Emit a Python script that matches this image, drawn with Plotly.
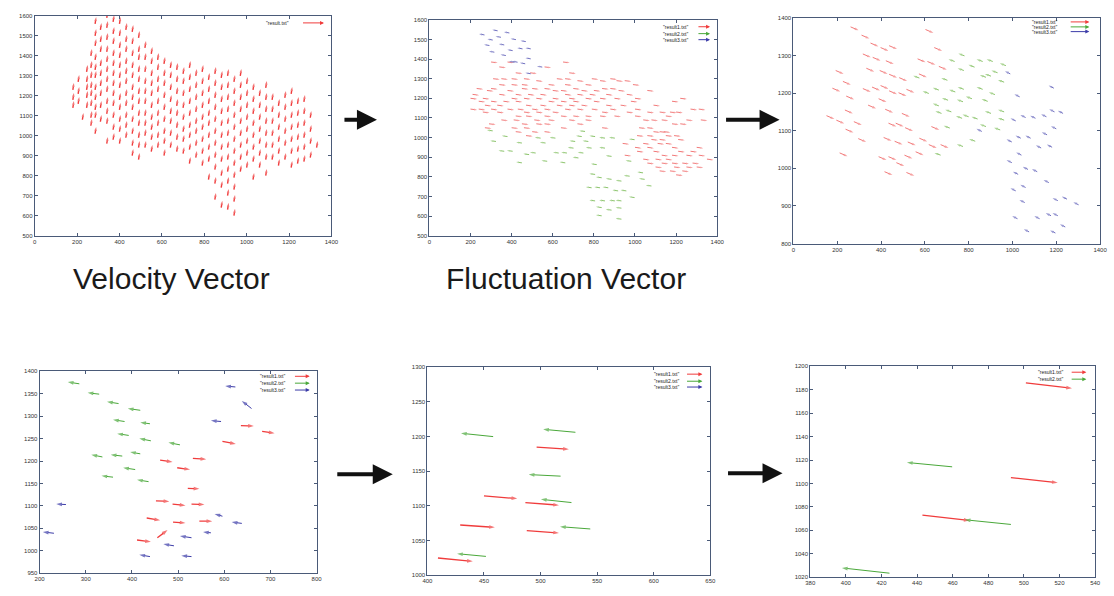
import plotly.graph_objects as go

W, H = 1114, 596

# ---------------- DATA ----------------
# Panel 1 : velocity vectors (columns of arrow bases)
P1_COL_X = [180, 205, 225, 245, 265, 285, 310, 340, 370, 400, 430, 460, 490, 520, 550, 580, 610, 640,
            670, 700, 730, 760, 790, 820, 850, 880, 910, 940, 970, 1000, 1030, 1060, 1090, 1120, 1150,
            1180, 1210, 1240, 1270, 1300, 1330]
P1_COL_Y = [
    [1230, 1180, 1140],
    [1270, 1210, 1160],
    [1080],
    [1320, 1270, 1230, 1190, 1140],
    [1400, 1340, 1290, 1240, 1200, 1150, 1090, 1050],
    [1560, 1500, 1450, 1380, 1330, 1290, 1230, 1180, 1130, 1090, 1010],
    [1530, 1470, 1420, 1350, 1300, 1250, 1200, 1140, 1070],
    [1590, 1540, 1480, 1420, 1370, 1320, 1270, 1220, 1160, 1110, 1060, 960],
    [1570, 1510, 1460, 1400, 1350, 1300, 1250, 1200, 1150, 1090, 1030, 980],
    [1560, 1500, 1440, 1390, 1340, 1290, 1240, 1180, 1130, 1070, 1020, 960],
    [1530, 1470, 1420, 1360, 1310, 1260, 1200, 1150, 1090, 1040, 990],
    [1520, 1460, 1400, 1340, 1290, 1230, 1180, 1130, 1070, 1010, 950, 900],
    [1490, 1420, 1380, 1320, 1270, 1210, 1160, 1100, 1050, 990, 940, 880],
    [1440, 1380, 1320, 1260, 1210, 1160, 1100, 1050, 1000, 940],
    [1410, 1360, 1300, 1250, 1200, 1140, 1080, 1030, 980, 920],
    [1380, 1330, 1270, 1220, 1160, 1100, 1050, 990, 940],
    [1360, 1300, 1250, 1190, 1130, 1070, 1010, 960, 900],
    [1340, 1290, 1230, 1170, 1110, 1060, 1000, 940],
    [1330, 1270, 1210, 1150, 1100, 1040, 980, 920],
    [1310, 1260, 1200, 1140, 1080, 1020, 970, 910],
    [1340, 1280, 1220, 1160, 1100, 1040, 990, 930, 860],
    [1300, 1240, 1180, 1120, 1060, 1010, 950, 890],
    [1320, 1260, 1200, 1140, 1080, 1030, 970, 910, 850],
    [1280, 1220, 1160, 1100, 1050, 990, 930, 870, 780],
    [1310, 1250, 1190, 1130, 1070, 1010, 950, 890, 830, 760, 680],
    [1290, 1230, 1170, 1110, 1050, 990, 930, 870, 800, 740, 640],
    [1300, 1240, 1180, 1120, 1060, 1000, 940, 880, 820, 760, 700, 630],
    [1270, 1210, 1150, 1090, 1030, 970, 910, 850, 790, 730, 670, 600],
    [1300, 1240, 1180, 1120, 1060, 1000, 940, 880, 820],
    [1260, 1200, 1140, 1080, 1020, 960, 900, 840],
    [1230, 1170, 1110, 1050, 990, 930, 870, 780],
    [1200, 1140, 1080, 1020, 960, 900, 840],
    [1240, 1180, 1120, 1060, 1000, 940, 880, 800],
    [1180, 1120, 1060, 1000, 940, 880],
    [1150, 1090, 1030, 970, 910, 850],
    [1190, 1130, 1070, 1010, 950, 880],
    [1210, 1150, 1090, 1030, 970, 910, 840],
    [1160, 1100, 1040, 980, 920, 860],
    [1170, 1110, 1050, 990, 930, 870],
    [1090, 1020, 960, 890],
    [940],
]
P1_VEC = (5, 34)

# Panel 2 : fluctuation vectors
P2_RED_ROW_Y = [1385, 1360, 1330, 1300, 1290, 1270, 1250, 1240, 1220, 1200, 1185, 1165, 1145, 1130, 1110,
                1090, 1070, 1050, 1030, 1010, 990, 970, 950, 930, 910, 890, 870, 850, 830, 810]
P2_RED_ROW_X = [
    [300, 380, 650],
    [340, 560],
    [420, 490, 680],
    [310, 350, 400, 460, 620, 660, 790, 880],
    [520, 720, 830, 910, 950],
    [340, 400, 450, 580, 660, 760, 990],
    [230, 300, 450, 500, 560, 700, 840, 880],
    [280, 380, 600, 640, 740, 800, 920, 1060],
    [210, 340, 420, 480, 540, 660, 720, 780, 860, 960],
    [200, 260, 400, 460, 520, 600, 680, 760, 830, 900, 1000, 1220],
    [240, 300, 360, 420, 580, 640, 700, 800, 980, 1180],
    [270, 330, 470, 540, 620, 680, 740, 860, 930, 1090],
    [200, 240, 300, 380, 430, 500, 560, 660, 720, 790, 880, 1000, 1270, 1310],
    [260, 330, 460, 520, 600, 840, 960, 1060, 1120, 1170, 1200],
    [420, 470, 560, 640, 700, 760, 830, 900, 1000, 1150],
    [350, 410, 510, 580, 680, 760, 1040, 1080, 1130, 1250, 1320],
    [290, 450, 520, 560, 720, 1180, 1220],
    [270, 400, 460, 640, 840, 1020, 1060],
    [420, 500, 560, 1090, 1120, 1140],
    [470, 1010, 1060, 1150, 1190],
    [1080, 1120, 1210],
    [940, 1040, 1110, 1150],
    [1000, 1060, 1180, 1300],
    [1010, 1090, 1210, 1270],
    [950, 1130, 1180, 1250, 1310],
    [1040, 1100, 1150, 1350],
    [1060, 1130, 1180, 1230, 1280],
    [1100, 1190, 1250, 1300],
    [1120, 1170, 1230],
    [1200],
]
P2_GREEN_X = [308, 324, 380, 364, 405, 450, 450, 485, 517, 541, 565, 573, 613, 629, 661, 669, 701, 725, 757,
              773, 789, 749, 814, 854, 854, 886, 902, 806, 838, 886, 934, 974, 982, 998, 789, 830, 870, 918,
              958, 806, 854, 902, 934, 838, 886, 934, 838, 934, 1039, 1047, 1080, 998, 741, 806, 709]
P2_GREEN_Y = [1034, 980, 1005, 930, 930, 972, 871, 913, 921, 997, 972, 879, 997, 921, 871, 921, 946, 896, 1031,
              980, 946, 921, 862, 997, 946, 904, 997, 812, 795, 787, 778, 803, 879, 989, 744, 744, 744, 728,
              728, 677, 677, 677, 677, 643, 630, 640, 601, 584, 820, 787, 753, 694, 1005, 1005, 980]
P2_BLUE_X = [268, 332, 389, 308, 348, 292, 364, 421, 469, 405, 453, 493, 316, 372, 429, 493, 413, 466, 549, 493]
P2_BLUE_Y = [1523, 1544, 1533, 1497, 1511, 1469, 1472, 1499, 1489, 1443, 1452, 1452, 1435, 1418, 1384, 1401,
             1384, 1376, 1359, 1325]
P2_RED_VEC = (32, -4)
P2_GREEN_VEC = (-28, 4)
P2_BLUE_VEC = (-26, 5)

# Panel 3
P3_RED_X = [261, 311, 352, 398, 437, 603, 643, 317, 362, 422, 567, 612, 664, 193, 333, 394, 437, 483, 573, 226,
            317, 359, 398, 437, 480, 516, 178, 241, 389, 341, 419, 495, 235, 151, 196, 276, 434, 467, 510, 238,
            296, 412, 462, 522, 575, 618, 672, 630, 211, 389, 434, 507, 558, 470, 416, 516]
P3_RED_Y = [1376, 1354, 1333, 1321, 1326, 1369, 1321, 1304, 1295, 1286, 1291, 1284, 1271, 1260, 1266, 1260,
            1250, 1241, 1251, 1231, 1212, 1216, 1220, 1206, 1201, 1210, 1213, 1192, 1185, 1168, 1157, 1146,
            1155, 1140, 1128, 1124, 1120, 1120, 1108, 1104, 1079, 1082, 1072, 1070, 1080, 1063, 1063, 1111,
            1041, 1031, 1031, 1035, 1044, 1015, 991, 989]
P3_GREEN_X = [781, 736, 864, 910, 970, 778, 827, 932, 879, 902, 703, 962, 618, 664, 739, 778, 864, 664, 706,
              774, 815, 887, 920, 676, 721, 770, 800, 841, 902, 962, 714, 879, 944, 830, 774, 672, 962, 575]
P3_GREEN_Y = [1299, 1284, 1284, 1284, 1273, 1260, 1269, 1254, 1242, 1245, 1234, 1229, 1199, 1208, 1203, 1210,
              1210, 1166, 1181, 1177, 1185, 1178, 1196, 1146, 1150, 1133, 1137, 1131, 1146, 1128, 1107, 1111,
              1102, 1072, 1058, 1035, 1150, 1240]
P3_BLUE_X = [990, 1033, 1015, 1060, 1105, 1155, 1189, 1192, 1231, 1200, 860, 997, 1038, 1083, 1158, 1131,
             1181, 1041, 997, 1071, 1113, 1026, 1166, 1015, 1060, 1056, 1207, 1249, 1302, 1176, 1207, 1023,
             1124, 1241, 1076, 1196]
P3_BLUE_Y = [1251, 1190, 1126, 1135, 1133, 1137, 1213, 1150, 1146, 1105, 1098, 1070, 1080, 1080, 1089, 1054,
             1056, 1035, 1015, 997, 991, 984, 962, 940, 949, 909, 914, 918, 903, 874, 874, 866, 866, 844, 831,
             828]
P3_RED_VEC = (36, -9)
P3_GREEN_VEC = (-28, 6)
P3_BLUE_VEC = (-24, 7)

# Panel 4 (tail x0,y0 -> head x1,y1)
P4_RED_X0 = [636, 682, 596, 461, 532, 498, 521, 452, 488, 529, 432, 489, 546, 455, 411]
P4_RED_Y0 = [1279, 1266, 1244, 1202, 1206, 1185, 1139, 1111, 1104, 1104, 1073, 1064, 1066, 1029, 1024]
P4_RED_X1 = [664, 709, 625, 488, 561, 526, 546, 481, 516, 557, 461, 516, 574, 477, 441]
P4_RED_Y1 = [1278, 1262, 1238, 1198, 1204, 1181, 1138, 1110, 1101, 1103, 1068, 1062, 1066, 1046, 1020]
P4_GREEN_X0 = [286, 329, 371, 418, 384, 439, 393, 441, 504, 336, 379, 418, 407, 359, 436]
P4_GREEN_Y0 = [1372, 1349, 1328, 1313, 1288, 1283, 1257, 1245, 1236, 1209, 1211, 1216, 1181, 1164, 1154]
P4_GREEN_X1 = [261, 304, 346, 391, 359, 418, 368, 416, 479, 312, 354, 396, 381, 334, 411]
P4_GREEN_Y1 = [1376, 1352, 1332, 1317, 1292, 1286, 1261, 1250, 1241, 1214, 1214, 1220, 1185, 1167, 1158]
P4_BLUE_X0 = [624, 659, 593, 257, 231, 596, 638, 571, 529, 491, 439, 529]
P4_BLUE_Y0 = [1365, 1317, 1288, 1103, 1039, 1077, 1061, 1040, 1029, 1011, 987, 987]
P4_BLUE_X1 = [602, 638, 571, 236, 207, 579, 616, 554, 504, 468, 416, 507]
P4_BLUE_Y1 = [1367, 1334, 1290, 1104, 1042, 1082, 1064, 1042, 1033, 1015, 991, 989]

# Panel 5
P5_RED_X0 = [496.5, 450.0, 486.6, 429.0, 487.8, 409.3]
P5_RED_Y0 = [1184.8, 1114.3, 1104.8, 1072.4, 1064.3, 1024.8]
P5_RED_X1 = [525.0, 479.4, 516.3, 459.6, 516.3, 440.1]
P5_RED_Y1 = [1181.9, 1110.5, 1101.0, 1069.0, 1061.0, 1020.0]
P5_GREEN_X0 = [458.1, 530.8, 517.7, 527.3, 543.9, 451.7]
P5_GREEN_Y0 = [1200.0, 1206.2, 1142.9, 1104.8, 1066.7, 1027.1]
P5_GREEN_X1 = [429.7, 502.3, 489.5, 500.3, 517.2, 426.2]
P5_GREEN_Y1 = [1204.8, 1210.5, 1145.2, 1109.5, 1070.0, 1031.0]

# Panel 6
P6_RED_X0 = [501.1, 492.7, 443.0]
P6_RED_Y0 = [1185.9, 1105.0, 1072.9]
P6_RED_X1 = [527.0, 519.0, 469.5]
P6_RED_Y1 = [1181.2, 1100.7, 1068.4]
P6_GREEN_X0 = [459.7, 492.7, 424.5]
P6_GREEN_Y0 = [1114.2, 1065.0, 1023.4]
P6_GREEN_X1 = [434.3, 466.8, 397.8]
P6_GREEN_Y1 = [1117.9, 1069.0, 1027.9]

LEGEND_NAMES = ['"result1.txt"', '"result2.txt"', '"result3.txt"']
CAPTIONS = ["Velocity Vector", "Fluctuation Vector"]

# ---------------- STYLE ----------------
RED = "#f03c3c"
GREEN = "#4aa83a"
BLUE = "#3c3ca8"
RED_L = "#f27a7a"
GREEN_L = "#8cc46c"
BLUE_L = "#7070c0"
FRAME = "#4a5a78"

# panel pixel boxes: (left, right, top, bottom), ranges, ticks
PANELS = [
    dict(px=(30, 330, 13, 235), xr=(0, 1400), yr=(500, 1600), xd=200, yd=100),
    dict(px=(429, 720, 17, 235), xr=(0, 1400), yr=(500, 1600), xd=200, yd=100),
    dict(px=(797, 1107, 15, 243), xr=(0, 1400), yr=(800, 1400), xd=200, yd=100),
    dict(px=(35, 315, 372, 576), xr=(200, 800), yr=(950, 1400), xd=100, yd=50),
    dict(px=(427, 713, 368, 578), xr=(400, 650), yr=(1000, 1300), xd=50, yd=50),
    dict(px=(814, 1102, 367, 580), xr=(380, 540), yr=(1020, 1200), xd=20, yd=20),
]

fig = go.Figure()


def axname(i, kind):
    return kind if i == 0 else f"{kind}{i + 1}"


def add_arrows(i, x0, y0, x1, y1, color, width=1.0, head=5, opacity=1.0):
    X, Y, S = [], [], []
    for a, b, c, d in zip(x0, y0, x1, y1):
        X += [a, c, None]
        Y += [b, d, None]
        S += [0, head, 0]
    fig.add_trace(go.Scatter(
        x=X, y=Y, mode="lines+markers", opacity=opacity,
        line=dict(color=color, width=width),
        marker=dict(symbol="arrow", size=S, angleref="previous", color=color, line=dict(width=0)),
        xaxis=axname(i, "x"), yaxis=axname(i, "y"), showlegend=False, hoverinfo="skip",
        connectgaps=False))


def vec_arrows(i, xs, ys, vec, color, **kw):
    x1 = [x + vec[0] for x in xs]
    y1 = [y + vec[1] for y in ys]
    add_arrows(i, xs, ys, x1, y1, color, **kw)


# Panel 1
p1x, p1y = [], []
for cx, col in zip(P1_COL_X, P1_COL_Y):
    for cy in col:
        p1x.append(cx)
        p1y.append(cy)
vec_arrows(0, p1x, p1y, P1_VEC, RED, width=1.4, head=4)

# Panel 2
p2x, p2y = [], []
for ry, row in zip(P2_RED_ROW_Y, P2_RED_ROW_X):
    for rx in row:
        p2x.append(rx)
        p2y.append(ry)
vec_arrows(1, p2x, p2y, P2_RED_VEC, RED_L, width=1.0, head=3)
vec_arrows(1, P2_GREEN_X, P2_GREEN_Y, P2_GREEN_VEC, GREEN_L, width=1.0, head=3)
vec_arrows(1, P2_BLUE_X, P2_BLUE_Y, P2_BLUE_VEC, BLUE_L, width=1.0, head=3)

# Panel 3
vec_arrows(2, P3_RED_X, P3_RED_Y, P3_RED_VEC, RED_L, width=1.0, head=4)
vec_arrows(2, P3_GREEN_X, P3_GREEN_Y, P3_GREEN_VEC, GREEN_L, width=1.0, head=4)
vec_arrows(2, P3_BLUE_X, P3_BLUE_Y, P3_BLUE_VEC, BLUE_L, width=1.0, head=4)

# Panel 4
add_arrows(3, P4_RED_X0, P4_RED_Y0, P4_RED_X1, P4_RED_Y1, RED, width=1.3, head=6)
add_arrows(3, P4_GREEN_X0, P4_GREEN_Y0, P4_GREEN_X1, P4_GREEN_Y1, GREEN, width=1.0, head=6)
add_arrows(3, P4_BLUE_X0, P4_BLUE_Y0, P4_BLUE_X1, P4_BLUE_Y1, BLUE, width=1.0, head=6)

# Panel 5
add_arrows(4, P5_RED_X0, P5_RED_Y0, P5_RED_X1, P5_RED_Y1, RED, width=1.3, head=6)
add_arrows(4, P5_GREEN_X0, P5_GREEN_Y0, P5_GREEN_X1, P5_GREEN_Y1, GREEN, width=1.0, head=6)

# Panel 6
add_arrows(5, P6_RED_X0, P6_RED_Y0, P6_RED_X1, P6_RED_Y1, RED, width=1.3, head=6)
add_arrows(5, P6_GREEN_X0, P6_GREEN_Y0, P6_GREEN_X1, P6_GREEN_Y1, GREEN, width=1.0, head=6)

layout = dict(width=W, height=H, margin=dict(l=0, r=0, t=0, b=0),
              paper_bgcolor="white", plot_bgcolor="white", showlegend=False)
for i, p in enumerate(PANELS):
    l, r, t, b = p["px"]
    xk = "xaxis" if i == 0 else f"xaxis{i + 1}"
    yk = "yaxis" if i == 0 else f"yaxis{i + 1}"
    common = dict(showgrid=False, zeroline=False, showline=True, linecolor=FRAME, linewidth=1,
                  mirror="ticks", ticks="inside", ticklen=3, tickcolor=FRAME,
                  tickfont=dict(size=6, color="#333333", family="Liberation Sans"), fixedrange=True)
    layout[xk] = dict(domain=[l / W, r / W], range=list(p["xr"]), dtick=p["xd"], tick0=0,
                      anchor=axname(i, "y"), **common)
    layout[yk] = dict(domain=[1 - b / H, 1 - t / H], range=list(p["yr"]), dtick=p["yd"], tick0=0,
                      anchor=axname(i, "x"), **common)
fig.update_layout(**layout)

# legends (text + sample arrow) per panel
LEG = [
    dict(names=['"result.txt"'], tx=0.863, a0=0.90, a1=0.975, ys=[0.968], col=[RED]),
    dict(names=LEGEND_NAMES, tx=0.904, a0=0.93, a1=0.975, ys=[0.968, 0.936, 0.908], col=[RED, GREEN, BLUE]),
    dict(names=LEGEND_NAMES, tx=0.865, a0=0.90, a1=0.965, ys=[0.982, 0.960, 0.939], col=[RED, GREEN, BLUE]),
    dict(names=LEGEND_NAMES, tx=0.893, a0=0.917, a1=0.975, ys=[0.975, 0.941, 0.907], col=[RED, GREEN, BLUE]),
    dict(names=LEGEND_NAMES, tx=0.895, a0=0.913, a1=0.972, ys=[0.967, 0.933, 0.905], col=[RED, GREEN, BLUE]),
    dict(names=LEGEND_NAMES[:2], tx=0.896, a0=0.913, a1=0.969, ys=[0.972, 0.939], col=[RED, GREEN]),
]
for i, lg in enumerate(LEG):
    xr = axname(i, "x") + " domain"
    yr = axname(i, "y") + " domain"
    l, r, t, b = PANELS[i]["px"]
    pw = r - l
    for name, yy, c in zip(lg["names"], lg["ys"], lg["col"]):
        fig.add_annotation(xref=xr, yref=yr, x=lg["tx"], y=yy, text=name, showarrow=False,
                           xanchor="right", yanchor="middle",
                           font=dict(size=5, color="#222222", family="Liberation Sans"))
        fig.add_annotation(xref=xr, yref=yr, x=lg["a1"], y=yy, ax=-(lg["a1"] - lg["a0"]) * pw, ay=0,
                           text="", showarrow=True, arrowhead=2, arrowsize=0.8, arrowwidth=1,
                           arrowcolor=c)

# captions
for cap, cx in zip(CAPTIONS, [168, 567]):
    fig.add_annotation(xref="paper", yref="paper", x=cx / W, y=1 - 278 / H, text=cap, showarrow=False,
                       xanchor="center", yanchor="middle",
                       font=dict(size=30, color="#1a1a1a", family="Liberation Sans"))

# big black flow arrows between panels
for (x0, x1, yy) in [(342, 376, 118), (728, 783, 118), (335, 392, 476), (730, 786, 475)]:
    fig.add_annotation(xref="paper", yref="paper", x=x1 / W, y=1 - yy / H, ax=-(x1 - x0), ay=0,
                       text="", showarrow=True, arrowhead=2, arrowsize=1.0, arrowwidth=4, arrowcolor="#111111")

fig.write_html("out.html")
